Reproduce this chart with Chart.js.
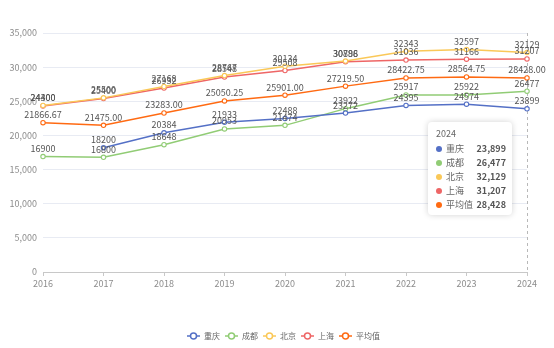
<!DOCTYPE html>
<html>
<head>
<meta charset="utf-8">
<script src="https://cdn.jsdelivr.net/npm/chart.js@4.4.1/dist/chart.umd.min.js"></script>
<style>
  html, body { margin: 0; padding: 0; background: #fff; }
  #wrap { position: relative; width: 554px; height: 348px; }
  #tip {
    position: absolute; background: #fff; border-radius: 4px;
    box-shadow: 0 0 6px rgba(0,0,0,0.18); padding: 5px 6px 4px 8px;
    font-family: "Noto Sans CJK SC", "Noto Sans", sans-serif; font-size: 9px; color: #666;
    pointer-events: none; width: 70px; display: none;
  }
  #tip .t { line-height: 14px; margin-bottom: 1px; }
  #tip .r { display: flex; align-items: center; line-height: 13px; margin-top: 1px; }
  #tip .d { width: 6px; height: 6px; border-radius: 50%; margin-right: 4px; }
  #tip .n { flex: 1; }
  #tip .v { font-weight: bold; color: #555; }
</style>
</head>
<body>
<div id="wrap">
  <canvas id="chart" width="554" height="348"></canvas>
  <div id="tip"></div>
</div>
<script>
const years = ['2016', '2017', '2018', '2019', '2020', '2021', '2022', '2023', '2024']
const chongqing = [null, 18200, 20384, 21933, 22488, 23272, 24395, 24574, 23899]
const chengdu = [16900, 16800, 18648, 20953, 21474, 23922, 25917, 25922, 26477]
const beijing = [24400, 25500, 27168, 28767, 30134, 30888, 32343, 32597, 32129]
const shanghai = [24300, 25400, 26932, 28548, 29508, 30796, 31036, 31166, 31207]
const average = [21866.67, 21475.00, 23283.00, 25050.25, 25901.00, 27219.50, 28422.75, 28564.75, 28428.00]
const yTicks = [0, 5000, 10000, 15000, 20000, 25000, 30000, 35000]

const names = ['重庆', '成都', '北京', '上海', '平均值']
const colors = ['#5470c6', '#91cc75', '#fac858', '#ee6666', '#ff6a12']
const seriesData = [chongqing, chengdu, beijing, shanghai, average]

const fontFamily = '"Noto Sans CJK SC", "Noto Sans", sans-serif'

// legend icon: short line with a hollow circle
const makeIcon = (color) => {
    const c = document.createElement('canvas')
    c.width = 13
    c.height = 8
    const g = c.getContext('2d')
    g.strokeStyle = color
    g.lineWidth = 1.5
    g.beginPath()
    g.moveTo(0, 4)
    g.lineTo(13, 4)
    g.stroke()
    g.beginPath()
    g.arc(6.5, 4, 3, 0, Math.PI * 2)
    g.fillStyle = '#fff'
    g.fill()
    g.stroke()
    return c
}

const fmt = (v, i) => i === 4 ? v.toFixed(2) : String(v)

// value labels above every point
const valueLabels = {
    id: 'valueLabels',
    afterDatasetsDraw(chart) {
        const ctx = chart.ctx
        ctx.save()
        ctx.font = '9px ' + fontFamily
        ctx.fillStyle = '#555'
        ctx.textAlign = 'center'
        ctx.textBaseline = 'middle'
        chart.data.datasets.forEach((ds, di) => {
            chart.getDatasetMeta(di).data.forEach((pt, i) => {
                const v = ds.data[i]
                if (v === null) return
                ctx.fillText(fmt(v, di), pt.x, pt.y - 8)
            })
        })
        ctx.restore()
    }
}

// dashed axis pointer at the last category
const pointerLine = {
    id: 'pointerLine',
    beforeDatasetsDraw(chart) {
        const x = chart.scales.x.getPixelForValue(8)
        const ctx = chart.ctx
        ctx.save()
        ctx.strokeStyle = '#b8b8b8'
        ctx.lineWidth = 1
        ctx.setLineDash([3, 3])
        ctx.beginPath()
        ctx.moveTo(x + 0.5, chart.chartArea.top)
        ctx.lineTo(x + 0.5, chart.chartArea.bottom)
        ctx.stroke()
        ctx.restore()
    }
}

// legend: slightly shorter box and nudged right
const legendTweak = {
    id: 'legendTweak',
    beforeLayout(chart) {
        const lg = chart.legend
        if (lg && !lg._tweaked) {
            const fit = lg.fit
            lg.fit = function () { fit.call(this); this.height -= 2 }
            lg._tweaked = true
        }
    },
    afterUpdate(chart) {
        const lg = chart.legend
        lg.left += 20
        lg.right += 20
        if (lg.legendHitBoxes) lg.legendHitBoxes.forEach((b) => { b.left += 20 })
    }
}

const externalTip = (context) => {
    const tip = document.getElementById('tip')
    const model = context.tooltip
    if (model.opacity === 0) { tip.style.display = 'none'; return }
    let html = '<div class="t">' + model.title[0] + '</div>'
    model.dataPoints.forEach((dp) => {
        html += '<div class="r"><span class="d" style="background:' + colors[dp.datasetIndex] + '"></span>' +
            '<span class="n">' + names[dp.datasetIndex] + '</span>' +
            '<span class="v">' + Math.round(dp.raw).toLocaleString('en-US') + '</span></div>'
    })
    tip.innerHTML = html
    tip.style.display = 'block'
    tip.style.left = (model.caretX - 99) + 'px'
    tip.style.top = '122px'
}

const chart = new Chart(document.getElementById('chart').getContext('2d'), {
    type: 'line',
    data: {
        labels: years,
        datasets: seriesData.map((d, i) => ({
            label: names[i],
            data: d,
            borderColor: colors[i],
            backgroundColor: '#fff',
            borderWidth: 1.5,
            pointRadius: 2.2,
            pointBorderWidth: 1.1,
            pointBackgroundColor: '#fff',
            pointBorderColor: colors[i],
            pointStyle: 'circle',
            legendIcon: makeIcon(colors[i]),
            tension: 0,
            fill: false
        }))
    },
    options: {
        responsive: false,
        animation: false,
        layout: { padding: { top: 33, right: 27, left: 0, bottom: 0 } },
        interaction: { mode: 'index', intersect: false },
        scales: {
            x: {
                offset: false,
                grid: { drawOnChartArea: false, drawTicks: true, tickLength: 4, color: '#c8c8c8' },
                border: { color: '#c8c8c8' },
                ticks: { color: '#8c8c8c', font: { size: 9, family: fontFamily }, padding: 2, maxRotation: 0 },
                afterFit: (s) => { s.height = 55 }
            },
            y: {
                min: 0,
                max: 35000,
                afterBuildTicks: (s) => { s.ticks = yTicks.map((v) => ({ value: v })) },
                grid: { color: '#e8ebf3', drawTicks: false },
                border: { display: false },
                ticks: {
                    color: '#8c8c8c', font: { size: 9, family: fontFamily }, padding: 6,
                    callback: (v) => v.toLocaleString('en-US')
                },
                afterFit: (s) => { s.width = 43 }
            }
        },
        plugins: {
            legend: {
                position: 'bottom',
                labels: {
                    usePointStyle: true,
                    pointStyleWidth: 13,
                    padding: 5,
                    color: '#666',
                    font: { size: 8, family: fontFamily },
                    generateLabels: (c) => c.data.datasets.map((ds, i) => ({
                        text: ds.label,
                        pointStyle: ds.legendIcon,
                        fillStyle: '#fff',
                        strokeStyle: ds.borderColor,
                        fontColor: '#666',
                        lineWidth: 0,
                        datasetIndex: i
                    }))
                }
            },
            tooltip: { enabled: false, external: externalTip }
        }
    },
    plugins: [pointerLine, valueLabels, legendTweak]
})

const last = years.length - 1
chart.tooltip.setActiveElements(
    seriesData.map((d, i) => ({ datasetIndex: i, index: last })),
    { x: chart.scales.x.getPixelForValue(last), y: 150 }
)
chart.update()
</script>
</body>
</html>
